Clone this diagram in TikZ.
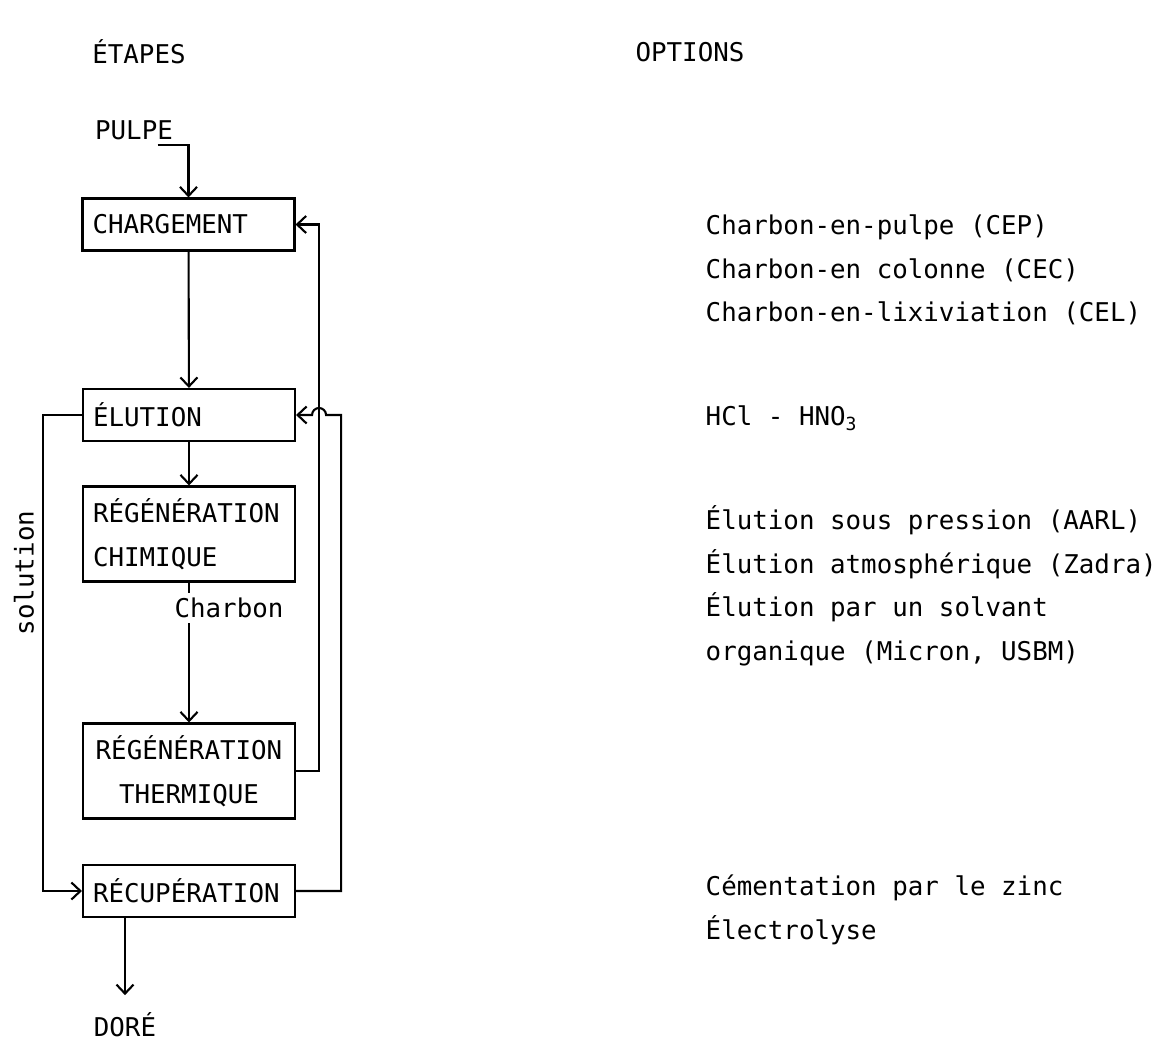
\documentclass[tikz,border=0pt]{standalone}
\usepackage{fontspec}
\setmainfont{DejaVu Sans Mono}
\usepackage{tikz}
\usetikzlibrary{arrows.meta, positioning}

\begin{document}
\begin{tikzpicture}[
        font=\fontsize{7.35}{12.4}\selectfont,
        etape/.style={rectangle, draw=black, line width=0.6pt, text width=1.92cm, inner xsep=0.1cm, inner ysep=0.12cm, minimum height=0.52cm, align=left},
        lbl/.style={inner sep=0.05cm},
        option/.style={anchor=west, align=left, inner sep=0pt},
        flow/.style={-{Straight Barb[length=0.9mm, width=1.7mm]}, line width=0.6pt}
    ]
        \useasboundingbox (0,0) rectangle (11.69,-10.42);

        % Headings
        \node[lbl] (etapes) at (1.39,-0.52) {ÉTAPES};
        \node[lbl] (options) at (6.90,-0.52) {OPTIONS};

        % Steps
        \node[lbl] (pulpe) at (1.34,-1.30) {PULPE};
        \node[etape] (charg) at (1.885,-2.245) {CHARGEMENT};
        \node[etape] (elut) at (1.89,-4.15) {ÉLUTION};
        \node[etape] (regchim) at (1.89,-5.34) {RÉGÉNÉRATION\\CHIMIQUE};
        \node[etape, align=center] (regtherm) at (1.89,-7.71) {RÉGÉNÉRATION\\THERMIQUE};
        \node[etape] (recup) at (1.89,-8.91) {RÉCUPÉRATION};
        \node[lbl] (dore) at (1.25,-10.25) {DORÉ};
        \node[lbl, rotate=90] (solution) at (0.24,-5.73) {solution};

        % Flows
        \draw[flow] ([xshift=-0.21cm]pulpe.south east) -| (charg.north);
        \draw[flow] (charg) -- (elut);
        \draw[flow] (elut) -- (regchim);
        \draw[flow] (regchim) -- (regtherm);
        \node[lbl, fill=white] (charbon) at (2.29,-6.08) {Charbon};
        \draw[flow] (elut.west) -- ++(-0.39,0) |- (recup.west);
        \draw[flow] (regtherm.east) -- ++(0.23,0) |- (charg.east);
        \draw[flow] (recup.east) -- ++(0.45,0) |- ([xshift=0.30cm]elut.east)
            arc[start angle=0, end angle=180, radius=0.07cm] -- (elut.east);
        \draw[flow] (recup.south -| dore.north) -- ([yshift=0.12cm]dore.north);

        % Options
        \node[option] (optcharg) at (7.05,-2.70) {Charbon-en-pulpe (CEP)\\Charbon-en colonne (CEC)\\Charbon-en-lixiviation (CEL)};
        \node[option] (optregchim) at (7.05,-4.18) {HCl - HNO\textsubscript{3}};
        \node[option] (optelut) at (7.05,-5.86) {Élution sous pression (AARL)\\Élution atmosphérique (Zadra)\\Élution par un solvant\\organique (Micron, USBM)};
        \node[option] (optrecup) at (7.05,-9.10) {Cémentation par le zinc\\Électrolyse};
    \end{tikzpicture}
\end{document}
